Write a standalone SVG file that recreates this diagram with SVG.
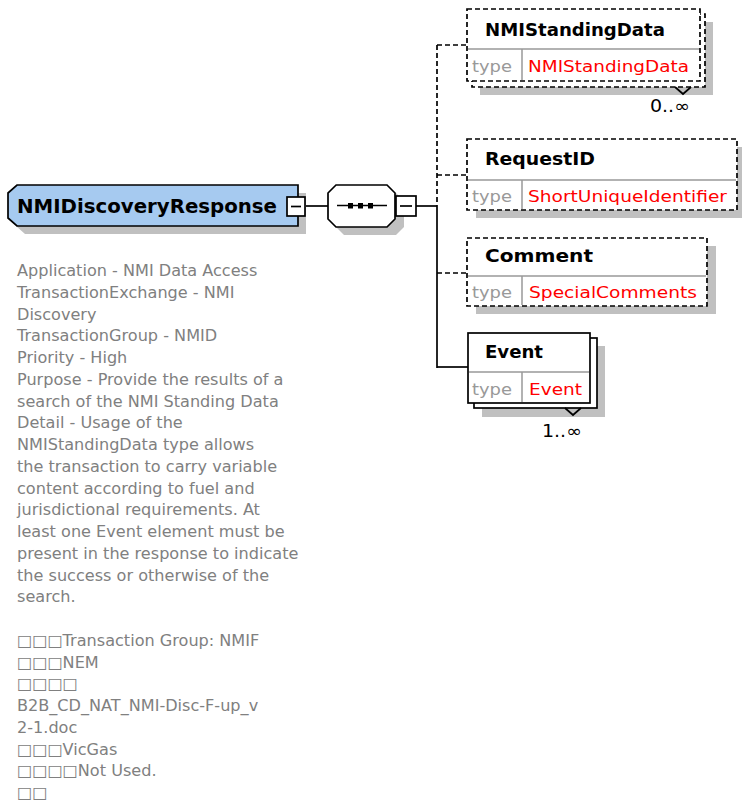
<svg xmlns="http://www.w3.org/2000/svg" width="742" height="807" viewBox="0 0 742 807">
<style>
  .ln{stroke:#000;stroke-width:1.7;fill:none}
  .dash{stroke-dasharray:5,3}
  .box{fill:#fff;stroke:#000;stroke-width:1.7}
  .shadow{fill:#c0c0c0;stroke:none}
  .div{stroke:#999;stroke-width:1.5}
  .name{font-family:"DejaVu Sans",sans-serif;font-weight:bold;font-size:17px;fill:#000}
  .tl{font-family:"DejaVu Sans",sans-serif;font-size:16.5px;fill:#999999}
  .tv{font-family:"DejaVu Sans",sans-serif;font-size:16.5px;fill:#ff0000}
  .occ{font-family:"DejaVu Sans",sans-serif;font-size:17px;fill:#000}
  .doc{font-family:"DejaVu Sans",sans-serif;font-size:16.1px;fill:#808080}
</style>
<rect width="742" height="807" fill="#fff"/>

<g id="connectors">
  <line class="ln" x1="305" y1="206" x2="328" y2="206"/>
  <line class="ln" x1="416" y1="206" x2="437" y2="206"/>
  <line class="ln dash" x1="437" y1="45" x2="437" y2="206"/>
  <line class="ln" x1="437" y1="206" x2="437" y2="368"/>
  <line class="ln dash" x1="437" y1="45" x2="467" y2="45"/>
  <line class="ln dash" x1="437" y1="175" x2="467" y2="175"/>
  <line class="ln dash" x1="437" y1="273" x2="467" y2="273"/>
  <line class="ln" x1="437" y1="367" x2="468" y2="367"/>
</g>

<g id="NMIDiscoveryResponse">
  <polygon class="shadow" points="25,193 306,193 306,234 25,234 16,226 16,201"/>
  <polygon points="17,185 298,185 298,226 17,226 8,218 8,193" fill="#a6caf0" stroke="#000" stroke-width="1.7"/>
  <text x="17" y="213" font-family="DejaVu Sans, sans-serif" font-weight="bold" font-size="20" textLength="260" lengthAdjust="spacingAndGlyphs">NMIDiscoveryResponse</text>
  <rect class="box" x="287" y="197" width="18" height="19"/>
  <line class="ln" x1="291" y1="206.5" x2="301" y2="206.5"/>
</g>

<g id="sequence">
  <polygon class="shadow" points="344,193 396,193 404,201 404,227 396,235 344,235 336,227 336,201"/>
  <polygon class="box" points="336,185 387,185 395,193 395,219 387,227 336,227 328,219 328,193"/>
  <line class="ln" x1="337" y1="205.5" x2="387" y2="205.5"/>
  <rect x="348" y="203" width="5" height="5.5" fill="#000"/>
  <rect x="358" y="203" width="5" height="5.5" fill="#000"/>
  <rect x="368" y="203" width="5" height="5.5" fill="#000"/>
  <rect class="box" x="396" y="196" width="20" height="20"/>
  <line class="ln" x1="400" y1="206" x2="412" y2="206"/>
</g>

<g id="NMIStandingData">
  <rect class="shadow" x="480" y="22" width="233" height="73"/>
  <rect class="box dash" x="472" y="14" width="233" height="73"/>
  <rect class="box dash" x="467" y="9" width="233" height="72"/>
  <line class="div" x1="468" y1="49" x2="699" y2="49"/>
  <line class="div" x1="522" y1="49" x2="522" y2="80"/>
  <text class="name" x="485" y="36" textLength="180" lengthAdjust="spacingAndGlyphs">NMIStandingData</text>
  <text class="tl" x="472" y="72" textLength="40" lengthAdjust="spacingAndGlyphs">type</text>
  <text class="tv" x="528" y="72" textLength="161" lengthAdjust="spacingAndGlyphs">NMIStandingData</text>
  <polyline class="ln" points="675,87 683,94 691,87" fill="#fff"/>
  <text class="occ" x="650" y="112" textLength="40" lengthAdjust="spacingAndGlyphs">0..∞</text>
</g>

<g id="RequestID">
  <rect class="shadow" x="476" y="147" width="270" height="71"/>
  <rect class="box dash" x="467" y="139" width="270" height="71"/>
  <line class="div" x1="468" y1="180" x2="736" y2="180"/>
  <line class="div" x1="522" y1="180" x2="522" y2="209"/>
  <text class="name" x="485" y="165" textLength="110" lengthAdjust="spacingAndGlyphs">RequestID</text>
  <text class="tl" x="472" y="202" textLength="40" lengthAdjust="spacingAndGlyphs">type</text>
  <text class="tv" x="528" y="202" textLength="199" lengthAdjust="spacingAndGlyphs">ShortUniqueIdentifier</text>
</g>

<g id="Comment">
  <rect class="shadow" x="476" y="246" width="240" height="68"/>
  <rect class="box dash" x="467" y="238" width="240" height="68"/>
  <line class="div" x1="468" y1="276" x2="706" y2="276"/>
  <line class="div" x1="522" y1="276" x2="522" y2="305"/>
  <text class="name" x="485" y="262" textLength="108" lengthAdjust="spacingAndGlyphs">Comment</text>
  <text class="tl" x="472" y="298" textLength="40" lengthAdjust="spacingAndGlyphs">type</text>
  <text class="tv" x="529" y="298" textLength="168" lengthAdjust="spacingAndGlyphs">SpecialComments</text>
</g>

<g id="Event">
  <rect class="shadow" x="482" y="346" width="123" height="71"/>
  <rect class="box" x="474" y="338" width="123" height="70"/>
  <rect class="box" x="468" y="333" width="122" height="70"/>
  <line class="div" x1="469" y1="372" x2="589" y2="372"/>
  <line class="div" x1="522" y1="372" x2="522" y2="402"/>
  <text class="name" x="485" y="358" textLength="58" lengthAdjust="spacingAndGlyphs">Event</text>
  <text class="tl" x="472" y="395" textLength="40" lengthAdjust="spacingAndGlyphs">type</text>
  <text class="tv" x="529" y="395" textLength="53" lengthAdjust="spacingAndGlyphs">Event</text>
  <polyline class="ln" points="565,408 573,415 581,408" fill="#fff"/>
  <text class="occ" x="542" y="437" textLength="40" lengthAdjust="spacingAndGlyphs">1..∞</text>
</g>

<g id="documentation">
  <text class="doc" x="17" y="276">Application - NMI Data Access</text>
  <text class="doc" x="17" y="297.75">TransactionExchange - NMI</text>
  <text class="doc" x="17" y="319.5">Discovery</text>
  <text class="doc" x="17" y="341.25">TransactionGroup - NMID</text>
  <text class="doc" x="17" y="363">Priority - High</text>
  <text class="doc" x="17" y="384.75">Purpose - Provide the results of a</text>
  <text class="doc" x="17" y="406.5">search of the NMI Standing Data</text>
  <text class="doc" x="17" y="428.25">Detail - Usage of the</text>
  <text class="doc" x="17" y="450">NMIStandingData type allows</text>
  <text class="doc" x="17" y="471.75">the transaction to carry variable</text>
  <text class="doc" x="17" y="493.5">content according to fuel and</text>
  <text class="doc" x="17" y="515.25">jurisdictional requirements. At</text>
  <text class="doc" x="17" y="537">least one Event element must be</text>
  <text class="doc" x="17" y="558.75">present in the response to indicate</text>
  <text class="doc" x="17" y="580.5">the success or otherwise of the</text>
  <text class="doc" x="17" y="602.25">search.</text>
  <text class="doc" x="17" y="645.75">□□□Transaction Group: NMIF</text>
  <text class="doc" x="17" y="667.5">□□□NEM</text>
  <text class="doc" x="17" y="689.25">□□□□</text>
  <text class="doc" x="17" y="711">B2B_CD_NAT_NMI-Disc-F-up_v</text>
  <text class="doc" x="17" y="732.75">2-1.doc</text>
  <text class="doc" x="17" y="754.5">□□□VicGas</text>
  <text class="doc" x="17" y="776.25">□□□□Not Used.</text>
  <text class="doc" x="17" y="798">□□</text>
</g>
</svg>
